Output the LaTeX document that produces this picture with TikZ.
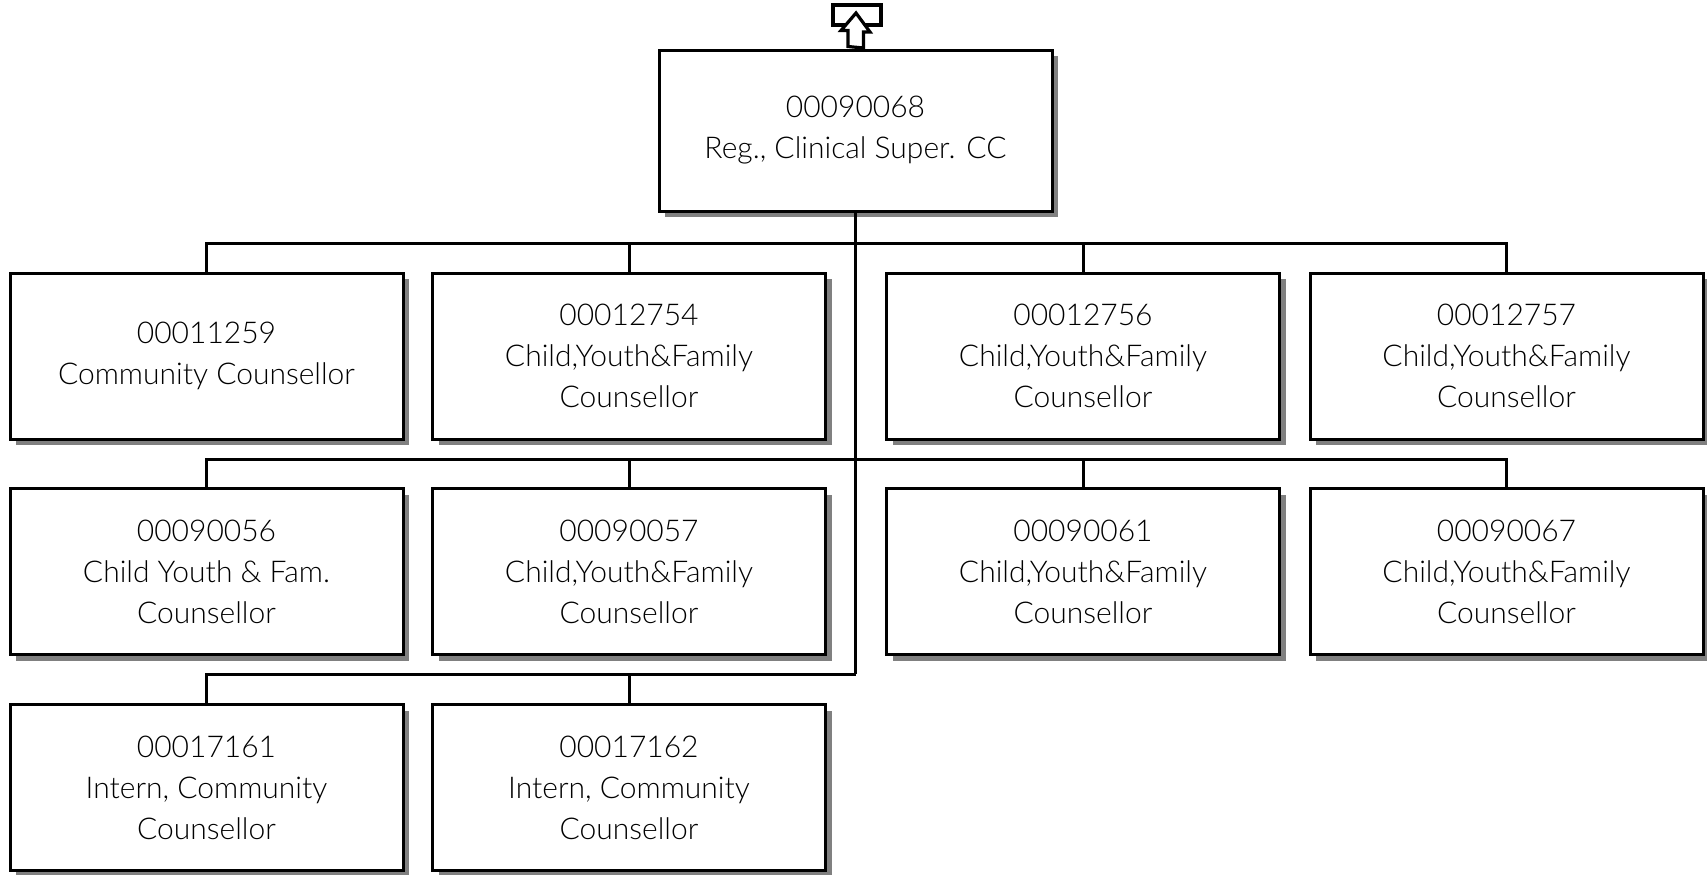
\documentclass[tikz,border=0pt]{standalone}
\usepackage{fontspec}
\setmainfont{Lato Light}
\usetikzlibrary{shadows}
\begin{document}
\begin{tikzpicture}[x=0.5pt,y=-0.5pt,
  posbox/.style={draw=black, line width=1.5pt, fill=white, minimum width=196.5pt, minimum height=83pt,
    align=center, inner sep=0pt, font=\fontsize{15}{20.5}\selectfont,
    drop shadow={shadow xshift=3pt, shadow yshift=-3pt, fill=black!50, opacity=1}},
  link/.style={draw=black, line width=1.5pt},
  icon/.style={draw=black, line width=1.6pt, fill=white}]
\useasboundingbox (0,0) rectangle (1707,874);
% top box
\node[posbox, minimum height=80.5pt] (top) at (855.5,130.5) {00090068\\Reg., Clinical Super. CC};
% row 1
\node[posbox] (a1) at (206.5,356) {00011259\\Community Counsellor};
\node[posbox] (a2) at (629,356) {00012754\\Child,Youth\&Family\\Counsellor};
\node[posbox] (a3) at (1083,356) {00012756\\Child,Youth\&Family\\Counsellor};
\node[posbox] (a4) at (1506.5,356) {00012757\\Child,Youth\&Family\\Counsellor};
% row 2
\node[posbox] (b1) at (206.5,571.5) {00090056\\Child Youth \& Fam.\\Counsellor};
\node[posbox] (b2) at (629,571.5) {00090057\\Child,Youth\&Family\\Counsellor};
\node[posbox] (b3) at (1083,571.5) {00090061\\Child,Youth\&Family\\Counsellor};
\node[posbox] (b4) at (1506.5,571.5) {00090067\\Child,Youth\&Family\\Counsellor};
% row 3
\node[posbox] (c1) at (206.5,787.5) {00017161\\Intern, Community\\Counsellor};
\node[posbox] (c2) at (629,787.5) {00017162\\Intern, Community\\Counsellor};
% junctions
\coordinate (j1) at (855.5,243);
\coordinate (j2) at (855.5,459);
\coordinate (j3) at (855.5,674);
\draw[link] (top.south) -- (j3);
\foreach \n in {a1,a2,a3,a4} {\draw[link] (j1) -| (\n.north);}
\foreach \n in {b1,b2,b3,b4} {\draw[link] (j2) -| (\n.north);}
\foreach \n in {c1,c2} {\draw[link] (j3) -| (\n.north);}
% top icon
\node[icon, minimum width=24pt, minimum height=10pt, inner sep=0pt] (ic) at (857,15) {};
\draw[icon] (top.north) ++(-7.5,-2) -- ++(0,-16) -- ++(-7,0) -- (856,13) -- (870,32) -- (863.5,32) -- (863.5,48) -- cycle;
\end{tikzpicture}
\end{document}
